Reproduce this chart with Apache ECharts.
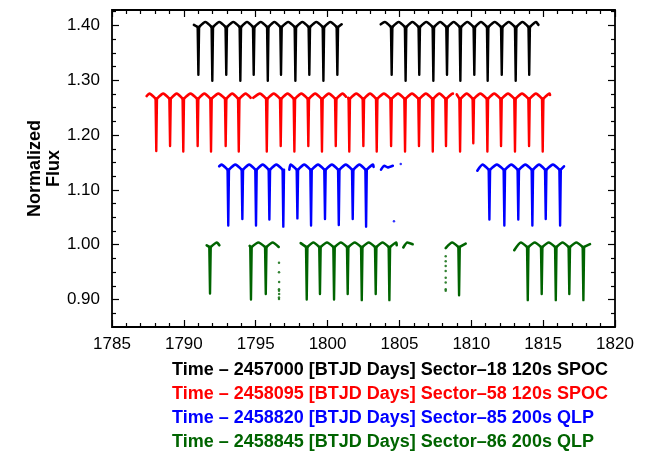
<!DOCTYPE html>
<html>
<head>
<meta charset="utf-8">
<script src="https://cdn.jsdelivr.net/npm/echarts@6/dist/echarts.min.js"></script>
<style>
  html, body { margin: 0; padding: 0; background: #fff; }
  #chart { width: 657px; height: 453px; }
</style>
</head>
<body>
<div id="chart"></div>
<script>
// Axis tick values
const xMin = 1785, xMax = 1820, xStep = 5;
const yMajorTicks = [0.90, 1.00, 1.10, 1.20, 1.30, 1.40];
const yMinorTicks = [0.875, 0.925, 0.95, 0.975, 1.025, 1.05, 1.075, 1.125, 1.15, 1.175,
                     1.225, 1.25, 1.275, 1.325, 1.35, 1.375, 1.425];

// Sector 18 (120 s SPOC): mid-eclipse time, minimum flux
const s18Eclipses = [
  [1791.01, 1.310], [1791.98, 1.299], [1792.95, 1.310], [1793.93, 1.299], [1794.86, 1.310],
  [1795.84, 1.299], [1796.76, 1.310], [1797.76, 1.299], [1798.73, 1.310], [1799.71, 1.299],
  [1800.68, 1.310],
  [1804.46, 1.310], [1805.43, 1.299], [1806.38, 1.310], [1807.36, 1.299], [1808.31, 1.310],
  [1809.24, 1.299], [1810.21, 1.310], [1811.14, 1.299], [1812.12, 1.310], [1813.09, 1.299],
  [1814.03, 1.310]
];
// observing runs: start time, start flux, end time, end flux
const s18Runs = [[1790.70, 1.401, 1800.98, 1.402], [1803.70, 1.402, 1814.67, 1.401]];
const s18Max = 1.406, s18Contact = 1.397;

// Sector 58 (120 s SPOC)
const s58Eclipses = [
  [1788.08, 1.171], [1789.04, 1.180], [1789.96, 1.170], [1790.96, 1.180], [1791.89, 1.170],
  [1792.91, 1.180], [1793.82, 1.170],
  [1795.77, 1.170], [1796.74, 1.180], [1797.69, 1.170], [1798.66, 1.180], [1799.61, 1.170],
  [1800.57, 1.180],
  [1801.51, 1.170], [1802.49, 1.180], [1803.42, 1.170], [1804.42, 1.180], [1805.39, 1.170],
  [1806.36, 1.180], [1807.32, 1.170], [1808.24, 1.180],
  [1809.22, 1.170], [1810.14, 1.185], [1811.12, 1.170], [1812.07, 1.180], [1813.04, 1.170],
  [1814.02, 1.180], [1814.97, 1.170]
];
const s58Runs = [[1787.41, 1.271, 1794.65, 1.268], [1794.83, 1.268, 1801.28, 1.270],
                 [1801.44, 1.268, 1808.75, 1.275], [1808.99, 1.274, 1815.48, 1.273]];
const s58Max = 1.2755, s58Contact = 1.2665;

// Sector 85 (200 s QLP)
const s85Eclipses = [
  [1793.09, 1.035], [1794.07, 1.047], [1795.02, 1.035], [1795.95, 1.046], [1796.92, 1.033],
  [1797.90, 1.048], [1798.85, 1.035], [1799.82, 1.047], [1800.78, 1.036], [1801.75, 1.047],
  [1802.68, 1.033],
  [1811.26, 1.046], [1812.30, 1.035], [1813.27, 1.046], [1814.25, 1.035], [1815.18, 1.047],
  [1816.18, 1.035]
];
const s85Runs = [[1792.46, 1.143, 1797.00, 1.138], [1797.34, 1.137, 1803.20, 1.142],
                 [1810.42, 1.135, 1816.45, 1.143]];
// short stretches without an eclipse
const s85Fragments = [[[1803.72, 1.137], [1803.95, 1.144], [1804.18, 1.141], [1804.54, 1.144]]];
const s85Points = [[1804.62, 1.043], [1805.09, 1.147]];
const s85Max = 1.146, s85Contact = 1.137;

// Sector 86 (200 s QLP)
const s86Eclipses = [
  [1791.82, 0.911],
  [1794.67, 0.900], [1795.70, 0.910],
  [1798.55, 0.900], [1799.47, 0.910], [1800.45, 0.900], [1801.40, 0.910], [1802.38, 0.899],
  [1803.35, 0.910], [1804.30, 0.899],
  [1809.15, 0.908],
  [1813.93, 0.899], [1814.90, 0.910], [1815.88, 0.899], [1816.82, 0.910], [1817.80, 0.899]
];
const s86Runs = [[1791.59, 0.999, 1792.47, 0.999], [1794.58, 0.998, 1796.60, 0.996],
                 [1798.13, 1.003, 1804.81, 0.999],
                 [1808.22, 0.994, 1809.61, 1.002], [1812.99, 0.990, 1818.26, 1.001]];
const s86Fragments = [[[1805.27, 0.995], [1805.55, 1.004], [1805.92, 1.001]]];
const s86Points = [
  [1796.62, 0.967], [1796.62, 0.950], [1796.63, 0.932], [1796.62, 0.919], [1796.62, 0.916],
  [1796.63, 0.910], [1796.62, 0.904], [1796.62, 0.901],
  [1808.22, 0.979], [1808.22, 0.970], [1808.22, 0.961], [1808.22, 0.952], [1808.22, 0.940],
  [1808.22, 0.931], [1808.22, 0.919], [1808.22, 0.916]
];
const s86Max = 1.004, s86Contact = 0.996;

const captions = [
  ['Time \u2013 2457000 [BTJD Days] Sector\u201318 120s SPOC', '#000000'],
  ['Time \u2013 2458095 [BTJD Days] Sector\u201358 120s SPOC', '#ff0000'],
  ['Time \u2013 2458820 [BTJD Days] Sector\u201385 200s QLP', '#0000ff'],
  ['Time \u2013 2458845 [BTJD Days] Sector\u201386 200s QLP', '#006400']
];

// light-curve shape: eclipse half-width and offset of maximum light from mid-eclipse (days)
const ECL_HALF = 0.05;
const QUAD = 0.48;
const GAP = ['-', '-'];

// Split each observing run into out-of-eclipse arcs and narrow eclipse dips
function buildSector(runs, eclipses, fMax, fContact, fragments) {
  const arcs = [], dips = [];
  runs.forEach(([t0, f0, t1, f1]) => {
    let arc = [[t0, f0]];
    let prev = null;
    eclipses.filter(e => e[0] >= t0 && e[0] <= t1).forEach(([t, fmin]) => {
      if (prev === null) {
        if (t - QUAD > t0) arc.push([t - QUAD, fMax]);
      } else {
        arc.push([(prev + t) / 2, fMax]);
      }
      arc.push([t - ECL_HALF, fContact]);
      arcs.push(...arc, GAP);
      dips.push([t - ECL_HALF, fContact], [t, fmin], [t + ECL_HALF, fContact], GAP);
      arc = [[t + ECL_HALF, fContact]];
      prev = t;
    });
    if (prev !== null && prev + QUAD < t1) arc.push([prev + QUAD, fMax]);
    arc.push([t1, f1]);
    arcs.push(...arc, GAP);
  });
  (fragments || []).forEach(f => arcs.push(...f, GAP));
  return { arcs, dips };
}

const FONT = '"Liberation Sans", Arial, Helvetica, sans-serif';
const series = [];
function addSector(runs, eclipses, fMax, fContact, color, fragments, points) {
  const { arcs, dips } = buildSector(runs, eclipses, fMax, fContact, fragments);
  series.push({
    type: 'line', data: arcs, smooth: 0.2, connectNulls: false,
    showSymbol: false, symbol: 'none', silent: true,
    lineStyle: { color: color, width: 2.6, join: 'round', cap: 'round' }
  });
  series.push({
    type: 'line', data: dips, connectNulls: false,
    showSymbol: false, symbol: 'none', silent: true,
    lineStyle: { color: color, width: 2.4, join: 'round', cap: 'round' }
  });
  if (points) {
    series.push({
      type: 'scatter', data: points, symbolSize: 2.5, silent: true,
      itemStyle: { color: color }
    });
  }
}
addSector(s18Runs, s18Eclipses, s18Max, s18Contact, '#000000');
addSector(s58Runs, s58Eclipses, s58Max, s58Contact, '#ff0000');
addSector(s85Runs, s85Eclipses, s85Max, s85Contact, '#0000ff', s85Fragments, s85Points);
addSector(s86Runs, s86Eclipses, s86Max, s86Contact, '#006400', s86Fragments, s86Points);

const yRange = { min: 0.85, max: 1.428 };
function yAxisDef(position, values, len, labels) {
  return {
    type: 'value', position: position, min: yRange.min, max: yRange.max, offset: 0,
    axisLine: { show: false },
    splitLine: { show: false },
    axisTick: { show: true, inside: true, length: len, customValues: values,
                lineStyle: { color: '#000', width: 1.2 } },
    axisLabel: labels ? {
      show: true, customValues: values, margin: 12,
      formatter: v => v.toFixed(2), color: '#000', fontSize: 17, fontFamily: FONT
    } : { show: false },
    name: labels ? 'Normalized\nFlux' : '',
    nameLocation: 'middle',
    nameGap: 48,
    nameMoveOverlap: false,
    nameTextStyle: { color: '#000', fontSize: 18, fontWeight: 'bold', fontFamily: FONT, lineHeight: 19 }
  };
}
function xAxisDef(position, labels) {
  return {
    type: 'value', position: position, min: xMin, max: xMax, interval: xStep,
    axisLine: { show: false },
    splitLine: { show: false },
    axisTick: { show: true, inside: true, length: 7, lineStyle: { color: '#000', width: 1.2 } },
    minorTick: { show: true, splitNumber: 5, length: 4, lineStyle: { color: '#000', width: 1.2 } },
    axisLabel: labels ? { show: true, margin: 9, color: '#000', fontSize: 17, fontFamily: FONT,
                          formatter: v => String(v) }
                      : { show: false }
  };
}

const option = {
  animation: false,
  backgroundColor: '#ffffff',
  grid: { left: 112, right: 42, top: 10, bottom: 126, show: true,
          borderColor: '#000', borderWidth: 1.8, backgroundColor: 'transparent' },
  xAxis: [xAxisDef('bottom', true), xAxisDef('top', false)],
  yAxis: [
    yAxisDef('left', yMajorTicks, 7, true),
    yAxisDef('left', yMinorTicks, 4, false),
    yAxisDef('right', yMajorTicks, 7, false),
    yAxisDef('right', yMinorTicks, 4, false)
  ],
  series: series,
  graphic: captions.map((c, i) => ({
    type: 'text', left: 172, top: 361 + i * 24, silent: true,
    style: { text: c[0], fill: c[1], font: 'bold 18px ' + FONT }
  }))
};

const chart = echarts.init(document.getElementById('chart'), null, { renderer: 'canvas' });
chart.setOption(option);
</script>
</body>
</html>
